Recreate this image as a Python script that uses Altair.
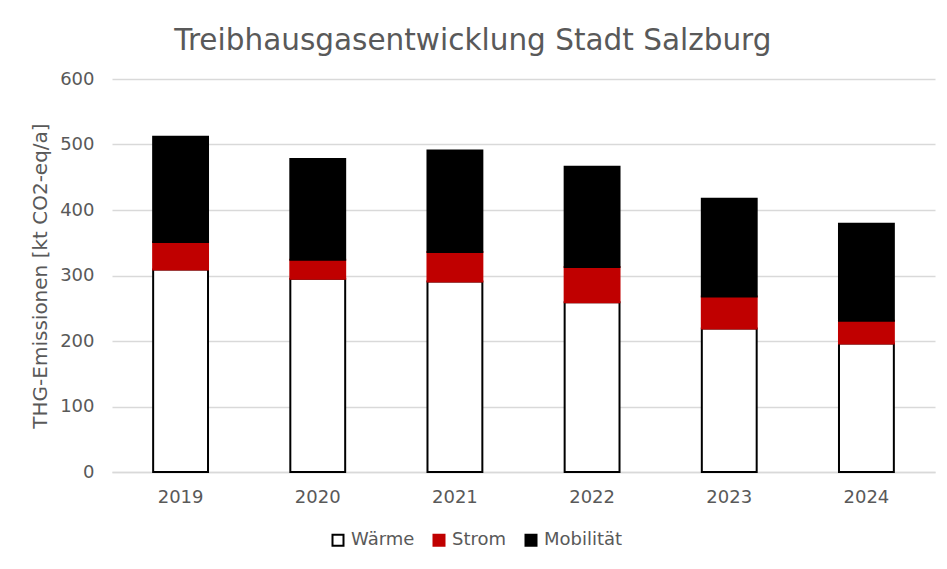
import altair as alt
import pandas as pd

years = ["2019", "2020", "2021", "2022", "2023", "2024"]
waerme = [309, 295, 291, 259, 219, 196]
strom = [42, 29, 45, 54, 49, 35]
mobilitaet = [161, 154, 155, 153, 149, 148]
sectors = ["Wärme", "Strom", "Mobilität"]
fills = ["#FFFFFF", "#C00000", "#000000"]
strokes = ["#000000", "#C00000", "#000000"]

rows = []
for i, y in enumerate(years):
    for k, (name, vals) in enumerate(zip(sectors, [waerme, strom, mobilitaet])):
        rows.append({"Jahr": y, "Sektor": name, "Wert": vals[i], "ord": k})
df = pd.DataFrame(rows)

FONT = "DejaVu Sans"
GRAY = "#595959"

chart = alt.Chart(df).mark_bar(strokeWidth=2).encode(
    x=alt.X("Jahr:N", sort=years, title=None,
            scale=alt.Scale(paddingInner=0.6, paddingOuter=0.3),
            axis=alt.Axis(labelAngle=0, labelFontSize=18, labelColor=GRAY,
                          labelFont=FONT, ticks=False, domainColor="#D9D9D9",
                          domainWidth=1.5, labelPadding=16)),
    y=alt.Y("Wert:Q", stack="zero", title="THG-Emissionen [kt CO2-eq/a]",
            scale=alt.Scale(domain=[0, 600]),
            axis=alt.Axis(values=[0, 100, 200, 300, 400, 500, 600],
                          labelFontSize=18, labelColor=GRAY, labelFont=FONT,
                          ticks=False, domain=False, gridColor="#D9D9D9",
                          gridWidth=1.5, labelPadding=18,
                          titleFontSize=20, titleColor=GRAY, titleFont=FONT,
                          titleFontWeight="normal", titlePadding=9)),
    fill=alt.Fill("Sektor:N", scale=alt.Scale(domain=sectors, range=fills),
                  legend=alt.Legend(title=None, orient="none", direction="horizontal",
                                    legendX=217, legendY=452, padding=0,
                                    symbolType="square", symbolSize=121,
                                    symbolStrokeWidth=2, labelFontSize=18,
                                    labelColor=GRAY, labelFont=FONT,
                                    labelOffset=4, columnPadding=14)),
    stroke=alt.Stroke("Sektor:N", scale=alt.Scale(domain=sectors, range=strokes),
                      legend=None),
    order=alt.Order("ord:Q", sort="ascending"),
).properties(
    width=823,
    height=393,
    title=alt.Title("Treibhausgasentwicklung Stadt Salzburg", fontSize=29.5,
                    color=GRAY, font=FONT, fontWeight="normal", offset=14,
                    anchor="middle", frame="bounds", dx=-10),
    padding={"left": 22, "top": 17, "right": 4, "bottom": 4},
).configure_view(stroke=None)

chart.save("out.html", embed_options={"renderer": "svg", "actions": False})
